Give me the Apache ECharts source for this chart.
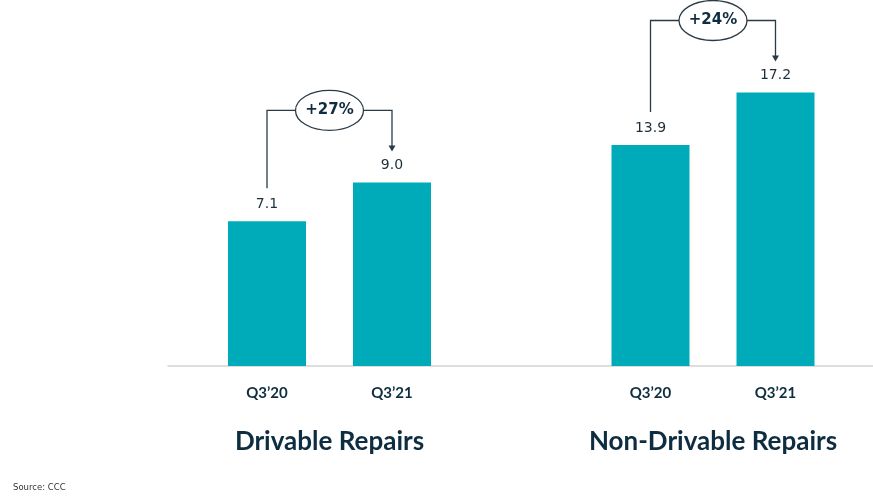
<!DOCTYPE html>
<html>
<head>
<meta charset="utf-8">
<script src="https://cdn.jsdelivr.net/npm/echarts@6/dist/echarts.min.js"></script>
<style>
html,body{margin:0;padding:0;background:#fff;}
#main{width:873px;height:500px;}
</style>
</head>
<body>
<div id="main"></div>
<script>
const categories = ['Q3’20', 'Q3’21'];
const groupNames = ['Drivable Repairs', 'Non-Drivable Repairs'];
const drivable = [7.1, 9.0];
const nonDrivable = [13.9, 17.2];
const growthLabels = ['+27%', '+24%'];
const sourceText = 'Source: CCC';

const BAR = '#00abb9';
const DARK = '#0f2d40';
const LINE = '#2a3b46';

const chart = echarts.init(document.getElementById('main'), null, {renderer: 'canvas'});

function xAx(i, name) {
  return {
    type: 'category', gridIndex: i, data: categories,
    axisLine: {show: false}, axisTick: {show: false},
    axisLabel: {color: DARK, fontFamily: 'Lato', fontWeight: 'bold', fontSize: 15, margin: 20},
    name: name, nameLocation: 'middle', nameGap: 63,
    nameTextStyle: {color: DARK, fontFamily: 'Lato', fontWeight: 'bold', fontSize: 26}
  };
}
function yAx(i, max) {
  return {type: 'value', gridIndex: i, min: 0, max: max, show: false, splitLine: {show: false}};
}
function barSeries(i, data) {
  return {
    type: 'bar', xAxisIndex: i, yAxisIndex: i, data: data, barWidth: 78,
    itemStyle: {color: BAR}, silent: true,
    label: {show: true, position: 'top', distance: 10, color: '#1d2f3b',
      fontFamily: 'DejaVu Sans', fontSize: 14,
      formatter: p => p.value.toFixed(1)}
  };
}

chart.setOption({
  animation: false,
  grid: [
    {left: 204.5, right: 418.5, top: 60, bottom: 134},
    {left: 588, right: 35, top: 48, bottom: 134},
    {left: 168, right: 0, bottom: 134, height: 1}
  ],
  xAxis: [
    xAx(0, groupNames[0]),
    xAx(1, groupNames[1]),
    {type: 'value', gridIndex: 2, axisLine: {show: true, onZero: false, lineStyle: {color: '#d3d3d3', width: 1.5}},
     axisTick: {show: false}, axisLabel: {show: false}, splitLine: {show: false}, position: 'bottom'}
  ],
  yAxis: [yAx(0, 15), yAx(1, 20), {type: 'value', gridIndex: 2, show: false}],
  series: [barSeries(0, drivable), barSeries(1, nonDrivable)],
  graphic: []
});

const seriesData = [drivable, nonDrivable];
const elements = [];
seriesData.forEach((vals, g) => {
  const p0 = chart.convertToPixel({gridIndex: g}, [categories[0], vals[0]]);
  const p1 = chart.convertToPixel({gridIndex: g}, [categories[1], vals[1]]);
  const x0 = p0[0], y0 = p0[1], x1 = p1[0], y1 = p1[1];
  const topY = Math.min(y0, y1) - 72;
  const leftBottom = y0 - 33;
  const tip = y1 - 31;
  const cx = (x0 + x1) / 2, rx = 34, ry = 20;
  const ls = {stroke: LINE, lineWidth: 1.3, fill: null};
  elements.push({type: 'polyline', shape: {points: [[x0, leftBottom], [x0, topY], [cx - rx, topY]]}, style: ls, silent: true});
  elements.push({type: 'polyline', shape: {points: [[cx + rx, topY], [x1, topY], [x1, tip - 5]]}, style: ls, silent: true});
  elements.push({type: 'polygon', shape: {points: [[x1 - 3.5, tip - 6], [x1 + 3.5, tip - 6], [x1, tip]]}, style: {fill: LINE}, silent: true});
  elements.push({type: 'ellipse', shape: {cx: cx, cy: topY, rx: rx, ry: ry}, style: {fill: '#fff', stroke: LINE, lineWidth: 1.3}, silent: true});
  elements.push({type: 'text', x: cx, y: topY, style: {text: growthLabels[g], fill: DARK, font: 'bold 15px "DejaVu Sans"', align: 'center', verticalAlign: 'middle'}, silent: true});
});
elements.push({type: 'text', left: 13, top: 483, style: {text: sourceText, fill: '#333', font: '8.5px "DejaVu Sans"'}, silent: true});
chart.setOption({graphic: elements});
</script>
</body>
</html>
